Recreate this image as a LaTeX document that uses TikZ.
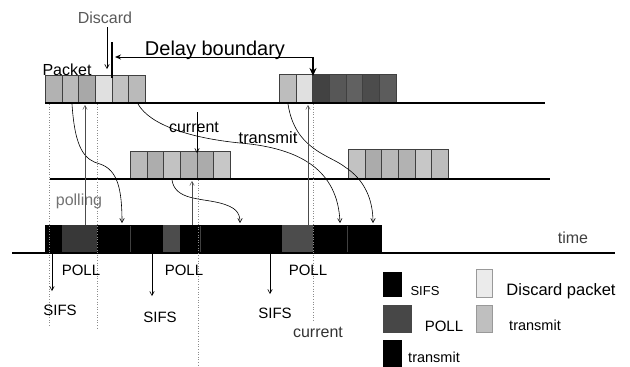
\documentclass[tikz,border=0pt]{standalone}
\usepackage{fontspec}
\setmainfont{Liberation Sans}
\usetikzlibrary{arrows.meta}
\tikzset{
  pk/.style={draw=black!75, line width=0.6pt, inner sep=0pt, minimum width=16.67pt, minimum height=27pt, anchor=south west},
  seg/.style={draw=none, inner sep=0pt, minimum height=28pt, anchor=south west},
  lbl/.style={inner sep=0pt, anchor=base},
  arr/.style={line width=0.6pt, -{Straight Barb[length=4pt,width=4.5pt]}},
  uparr/.style={line width=0.5pt, draw=black!70, -{Straight Barb[length=4pt,width=4.5pt]}},
  dots/.style={line width=0.6pt, draw=black!45, dotted},
  base/.style={line width=2.4pt},
}
\newcommand{\fs}[1]{\fontsize{#1}{#1}\selectfont}
\begin{document}
\begin{tikzpicture}[x=1pt,y=-1pt]
\useasboundingbox (0,0) rectangle (630,367);

% ---- baselines ----
\coordinate (l1a) at (45,103);  \coordinate (l1b) at (545,103);
\coordinate (l2a) at (50,179);  \coordinate (l2b) at (550,179);
\coordinate (l3a) at (12,253);  \coordinate (l3b) at (615,253);

% ---- top packets ----
\foreach \c [count=\i] in {30,27,34,12,24,27}
  \node[pk, fill=black!\c] (tl\i) at ({45+(\i-1)*16.67},103) {};
\foreach \c [count=\i] in {26,12,74,66,62,70,64}
  \node[pk, fill=black!\c, minimum height=28pt] (tr\i) at ({279+(\i-1)*16.67},103) {};

% ---- middle packets ----
\foreach \c [count=\i] in {27,32,24,30,33,22}
  \node[pk, fill=black!\c] (ml\i) at ({130+(\i-1)*16.67},179) {};
\foreach \c [count=\i] in {24,33,28,30,22,26}
  \node[pk, fill=black!\c, minimum height=29pt] (mr\i) at ({348+(\i-1)*16.67},179) {};

% ---- bottom bar ----
\node[seg, fill=black, minimum width=17pt] (b1) at (45,253) {};
\node[seg, fill=black!78, minimum width=35pt] (b2) at (62,253) {};
\node[seg, fill=black, minimum width=66pt] (b3) at (97,253) {};
\node[seg, fill=black!70, minimum width=17pt] (b4) at (163,253) {};
\node[seg, fill=black, minimum width=102pt] (b5) at (180,253) {};
\node[seg, fill=black!70, minimum width=31pt] (b6) at (282,253) {};
\node[seg, fill=black, minimum width=69pt] (b7) at (313,253) {};
\draw[black!75, line width=0.4pt] (200,226) -- (200,252) (347,226) -- (347,252) (130,226) -- (130,252);

\draw[base] (l1a) -- (l1b);
\draw[base] (l2a) -- (l2b);
\draw[line width=1.6pt] (l3a) -- (l3b);

% ---- dotted verticals ----
\coordinate (d1t) at (49,104);  \coordinate (d1b) at (49,327);
\coordinate (d2t) at (97,104);  \coordinate (d2b) at (97,328);
\coordinate (d3t) at (198,180); \coordinate (d3b) at (198,365);
\coordinate (d4t) at (313,104); \coordinate (d4b) at (313,320);
\draw[dots] (d1t) -- (d1b);
\draw[dots] (d2t) -- (d2b);
\draw[dots] (d3t) -- (d3b);
\draw[dots] (d4t) -- (d4b);

% ---- delay boundary ----
\coordinate (dbL) at (112,42); \coordinate (dbLb) at (112,78);
\coordinate (dbA) at (115,57); \coordinate (dbR) at (313,57);
\coordinate (dbRb) at (313,76);
\draw[line width=2.6pt] (dbL) -- (dbLb);
\draw[line width=1pt, {Stealth[length=6pt,width=5pt]}-] (dbA) -- (dbR);
\draw[line width=2pt, -{Stealth[length=8pt,width=7pt]}] (dbR) -- (dbRb);
\node[lbl, font=\fs{20}] (dbt) at (215,55) {Delay boundary};

% ---- discard ----
\node[lbl, font=\fs{16}, text=black!65] (disc) at (105,23) {Discard};
\coordinate (dc1) at (107,27); \coordinate (dc2) at (107,69);
\draw[arr] (dc1) -- (dc2);
\node[lbl, font=\fs{16}] (pkt) at (67,75) {Packet};

% ---- current (middle) ----
\node[lbl, font=\fs{16}] (cur1) at (194,132) {current};
\coordinate (cu1) at (197,112); \coordinate (cu2) at (197,153);
\draw[arr] (cu1) -- (cu2);
\node[lbl, font=\fs{16.5}] (trn) at (268,143) {transmit};
\node[lbl, font=\fs{16}, text=black!55] (pol) at (79,205) {polling};
\node[lbl, font=\fs{16}, text=black!75] (tim) at (573,243) {time};

% ---- curves ----
\coordinate (pA) at (138,104); \coordinate (eA) at (340,223);
\coordinate (mA) at (240,143);
\draw[arr] (pA) .. controls (150,125) and (190,138) .. (mA)
                .. controls (300,148) and (338,170) .. (eA);
\coordinate (pB) at (288,104); \coordinate (eB) at (373,223);
\coordinate (mB) at (345,167);
\draw[arr] (pB) .. controls (295,150) and (330,155) .. (mB)
                .. controls (365,180) and (373,200) .. (eB);
\coordinate (pP) at (72,104); \coordinate (eP) at (122,223);
\coordinate (mP) at (100,164);
\draw[arr] (pP) .. controls (75,150) and (85,160) .. (mP)
                .. controls (118,170) and (122,190) .. (eP);
\coordinate (pC) at (172,180); \coordinate (eC) at (240,223);
\coordinate (mC) at (220,203);
\draw[arr] (pC) .. controls (175,200) and (200,198) .. (mC)
                .. controls (235,207) and (240,212) .. (eC);

% ---- up arrows ----
\coordinate (u1a) at (85,225);  \coordinate (u1b) at (85,105);
\coordinate (u2a) at (192,225); \coordinate (u2b) at (192,181);
\coordinate (u3a) at (308,225); \coordinate (u3b) at (308,105);
\draw[uparr] (u1a) -- (u1b);
\draw[uparr] (u2a) -- (u2b);
\draw[uparr] (u3a) -- (u3b);

% ---- SIFS arrows and labels ----
\coordinate (s1a) at (52,254);  \coordinate (s1b) at (52,291);
\coordinate (s2a) at (152,254); \coordinate (s2b) at (152,296);
\coordinate (s3a) at (270,254); \coordinate (s3b) at (270,294);
\draw[arr] (s1a) -- (s1b);
\draw[arr] (s2a) -- (s2b);
\draw[arr] (s3a) -- (s3b);
\node[lbl, font=\fs{15}] (sf1) at (60,315) {SIFS};
\node[lbl, font=\fs{15}] (sf2) at (160,322) {SIFS};
\node[lbl, font=\fs{15}] (sf3) at (275,318) {SIFS};
\node[lbl, font=\fs{15}] (po1) at (81,275) {POLL};
\node[lbl, font=\fs{15}] (po2) at (184,275) {POLL};
\node[lbl, font=\fs{15}] (po3) at (308,275) {POLL};
\node[lbl, font=\fs{16}, text=black!80] (cur2) at (318,337) {current};

% ---- legend ----
\node[seg, fill=black, minimum width=19pt, minimum height=25pt] (lgS) at (383,297) {};
\node[lbl, font=\fs{13}] (lgSt) at (425,295) {SIFS};
\node[seg, fill=black!72, minimum width=29pt, minimum height=28pt] (lgP) at (383,333) {};
\node[lbl, font=\fs{15}] (lgPt) at (444,331) {POLL};
\node[seg, fill=black, minimum width=19pt, minimum height=27pt] (lgT) at (383,367) {};
\node[lbl, font=\fs{14.5}] (lgTt) at (434,362) {transmit};
\node[pk, fill=black!8, minimum width=16pt, minimum height=28pt, draw=black!40] (lgD) at (476,298) {};
\node[lbl, font=\fs{16.5}] (lgDt) at (561,295) {Discard packet};
\node[pk, fill=black!25, minimum width=16pt, minimum height=27pt, draw=black!40] (lgR) at (476,333) {};
\node[lbl, font=\fs{14.5}] (lgRt) at (535,330) {transmit};
\end{tikzpicture}
\end{document}
